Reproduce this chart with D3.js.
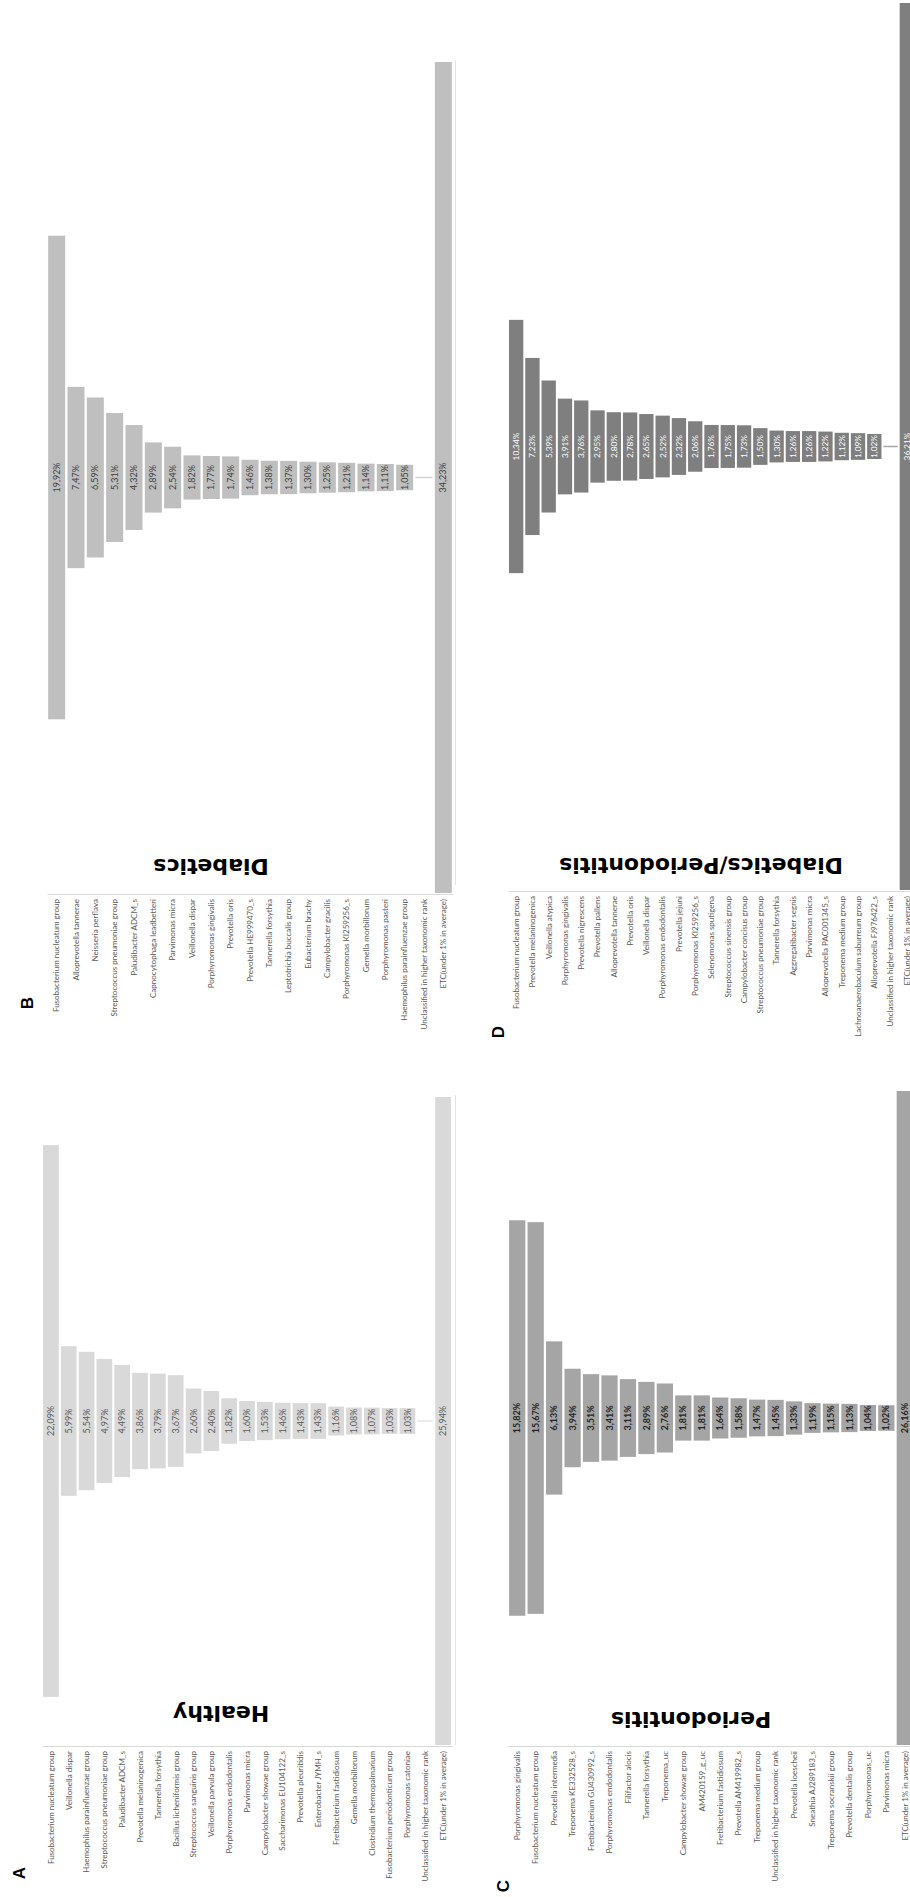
<!DOCTYPE html>
<html>
<head>
<meta charset="utf-8">
<script src="https://cdn.jsdelivr.net/npm/d3@7"></script>
<style>
    body { margin: 0; background: #fff; }
    svg { display: block; }
</style>
</head>
<body>
<svg id="figure" width="910" height="1897"></svg>
<script>
// Panel A - Healthy
const healthyLabels = [
    "Fusobacterium nucleatum group", "Veillonella dispar", "Haemophilus parainfluenzae group",
    "Streptococcus pneumoniae group", "Paludibacter ADCM_s", "Prevotella melaninogenica",
    "Tannerella forsythia", "Bacillus licheniformis group", "Streptococcus sanguinis group",
    "Veillonella parvula group", "Porphyromonas endodontalis", "Parvimonas micra",
    "Campylobacter showae group", "Saccharimonas EU104122_s", "Prevotella pleuritidis",
    "Enterobacter JYMH_s", "Fretibacterium fastidiosum", "Gemella morbillorum",
    "Clostridium thermopalmarium", "Fusobacterium periodonticum group", "Porphyromonas catoniae",
    "Unclassified in higher taxonomic rank", "ETC(under 1% in average)"
];
const healthyValues = [22.09, 5.99, 5.54, 4.97, 4.49, 3.86, 3.79, 3.67, 2.60, 2.40, 1.82, 1.60,
    1.53, 1.46, 1.43, 1.43, 1.16, 1.08, 1.07, 1.03, 1.03, 0.06, 25.94];

// Panel B - Diabetics
const diabeticsLabels = [
    "Fusobacterium nucleatum group", "Alloprevotella tannerae", "Neisseria perflava",
    "Streptococcus pneumoniae group", "Paludibacter ADCM_s", "Capnocytophaga leadbetteri",
    "Parvimonas micra", "Veillonella dispar", "Porphyromonas gingivalis", "Prevotella oris",
    "Prevotella HE999470_s", "Tannerella forsythia", "Leptotrichia buccalis group",
    "Eubacterium brachy", "Campylobacter gracilis", "Porphyromonas KI259256_s",
    "Gemella morbillorum", "Porphyromonas pasteri", "Haemophilus parainfluenzae group",
    "Unclassified in higher taxonomic rank", "ETC(under 1% in average)"
];
const diabeticsValues = [19.92, 7.47, 6.59, 5.31, 4.32, 2.89, 2.54, 1.82, 1.77, 1.74, 1.46, 1.38,
    1.37, 1.30, 1.25, 1.21, 1.14, 1.11, 1.05, 0.06, 34.23];

// Panel C - Periodontitis
const periodontitisLabels = [
    "Porphyromonas gingivalis", "Fusobacterium nucleatum group", "Prevotella intermedia",
    "Treponema KE332528_s", "Fretibacterium GU430992_s", "Porphyromonas endodontalis",
    "Filifactor alocis", "Tannerella forsythia", "Treponema_uc", "Campylobacter showae group",
    "AM420159_g_uc", "Fretibacterium fastidiosum", "Prevotella AM419982_s",
    "Treponema medium group", "Unclassified in higher taxonomic rank", "Prevotella loescheii",
    "Sneathia AJ289183_s", "Treponema socranskii group", "Prevotella dentalis group",
    "Porphyromonas_uc", "Parvimonas micra", "ETC(under 1% in average)"
];
const periodontitisValues = [15.82, 15.67, 6.13, 3.94, 3.51, 3.41, 3.11, 2.89, 2.76, 1.81, 1.81,
    1.64, 1.58, 1.47, 1.45, 1.33, 1.19, 1.15, 1.13, 1.04, 1.02, 26.16];

// Panel D - Diabetics/Periodontitis
const diabPerioLabels = [
    "Fusobacterium nucleatum group", "Prevotella melaninogenica", "Veillonella atypica",
    "Porphyromonas gingivalis", "Prevotella nigrescens", "Prevotella pallens",
    "Alloprevotella tannerae", "Prevotella oris", "Veillonella dispar",
    "Porphyromonas endodontalis", "Prevotella jejuni", "Porphyromonas KI259256_s",
    "Selenomonas sputigena", "Streptococcus sinensis group", "Campylobacter concisus group",
    "Streptococcus pneumoniae group", "Tannerella forsythia", "Aggregatibacter segnis",
    "Parvimonas micra", "Alloprevotella PAC001345_s", "Treponema medium group",
    "Lachnoanaerobaculum saburreum group", "Alloprevotella FJ976422_s",
    "Unclassified in higher taxonomic rank", "ETC(under 1% in average)"
];
const diabPerioValues = [10.34, 7.23, 5.39, 3.91, 3.76, 2.95, 2.80, 2.78, 2.65, 2.52, 2.32, 2.06,
    1.76, 1.75, 1.73, 1.50, 1.30, 1.26, 1.26, 1.22, 1.12, 1.09, 1.02, 0.06, 36.21];

// layout of the four funnels (the figure is turned on its side)
const panels = [
    { letter: "A", title: "Healthy", labels: healthyLabels, values: healthyValues,
      x0: 42, x1: 452, top: 1097, bottom: 1745, fill: "#d9d9d9", ink: "#595959", bold: false,
      valueSize: 9, titleX: 221, titleY: 1706, letterX: 19, letterY: 1873 },
    { letter: "B", title: "Diabetics", labels: diabeticsLabels, values: diabeticsValues,
      x0: 47, x1: 453, top: 62, bottom: 893, fill: "#bfbfbf", ink: "#404040", bold: false,
      valueSize: 9, titleX: 211, titleY: 859, letterX: 27, letterY: 1003 },
    { letter: "C", title: "Periodontitis", labels: periodontitisLabels, values: periodontitisValues,
      x0: 508, x1: 914, top: 1091, bottom: 1745, fill: "#a5a5a5", ink: "#262626", bold: true,
      valueSize: 9, titleX: 691, titleY: 1712, letterX: 503, letterY: 1886 },
    { letter: "D", title: "Diabetics/Periodontitis", labels: diabPerioLabels, values: diabPerioValues,
      x0: 508, x1: 915, top: 3, bottom: 890, fill: "#7f7f7f", ink: "#ffffff", bold: false,
      valueSize: 8.3, titleX: 701, titleY: 858, letterX: 498, letterY: 1032 }
];

const svg = d3.select("#figure");
svg.append("rect").attr("width", 910).attr("height", 1897).attr("fill", "#fff");

// faint chart borders on the right column
svg.append("line").attr("x1", 455.5).attr("x2", 455.5).attr("y1", 60).attr("y2", 885)
    .attr("stroke", "#e3e3e3");
svg.append("line").attr("x1", 455.5).attr("x2", 455.5).attr("y1", 1095).attr("y2", 1745)
    .attr("stroke", "#e3e3e3");

panels.forEach(p => drawFunnel(p));

function formatValue(v) {
    return v.toFixed(2).replace(".", ",") + "%";
}

function drawFunnel(p) {
    const g = svg.append("g");
    const rows = p.labels.map((label, i) => ({ label, value: p.values[i] }));

    const x = d3.scaleBand()
        .domain(p.labels)
        .range([p.x0, p.x1])
        .paddingInner(0.12)
        .paddingOuter(0.06);

    const len = d3.scaleLinear()
        .domain([0, d3.max(p.values)])
        .range([0, p.bottom - p.top]);

    const cy = (p.top + p.bottom) / 2;

    // funnel bars, centred on the middle line
    g.selectAll("rect.bar")
        .data(rows)
        .enter()
        .append("rect")
        .attr("class", "bar")
        .attr("x", d => x(d.label))
        .attr("width", x.bandwidth())
        .attr("y", d => cy - Math.max(len(d.value), 1.2) / 2)
        .attr("height", d => Math.max(len(d.value), 1.2))
        .attr("fill", p.fill)
        .attr("fill-opacity", d => d.value < 0.5 ? 0.7 : 1);

    // value labels
    g.selectAll("text.val")
        .data(rows.filter(d => d.value >= 0.5))
        .enter()
        .append("text")
        .attr("class", "val")
        .attr("transform", d => `translate(${x(d.label) + x.bandwidth() / 2},${cy}) rotate(-90)`)
        .attr("text-anchor", "middle")
        .attr("dy", "0.35em")
        .attr("font-family", "Lato, 'Open Sans', sans-serif")
        .attr("font-size", p.valueSize)
        .attr("font-weight", p.bold ? "bold" : "normal")
        .attr("fill", p.ink)
        .text(d => formatValue(d.value));

    // category axis
    const axis = g.append("g")
        .attr("transform", `translate(0,${p.bottom + 1})`)
        .call(d3.axisBottom(x).tickSize(0).tickSizeOuter(0));

    axis.select(".domain").attr("stroke", "#d9d9d9");
    axis.selectAll(".tick text")
        .attr("transform", "rotate(-90)")
        .attr("x", -5)
        .attr("y", 0)
        .attr("dy", "0.35em")
        .attr("text-anchor", "end")
        .attr("font-family", "Lato, 'Open Sans', sans-serif")
        .attr("font-size", 8)
        .attr("fill", "#595959");

    // title, upside down
    g.append("text")
        .attr("transform", `translate(${p.titleX},${p.titleY}) rotate(180)`)
        .attr("text-anchor", "middle")
        .attr("font-family", "'DejaVu Sans', sans-serif")
        .attr("font-weight", "bold")
        .attr("font-size", 22)
        .attr("fill", "#000")
        .text(p.title);

    // panel letter
    g.append("text")
        .attr("transform", `translate(${p.letterX},${p.letterY}) rotate(-90)`)
        .attr("text-anchor", "middle")
        .attr("dy", "0.35em")
        .attr("font-family", "'Liberation Sans', Arial, sans-serif")
        .attr("font-weight", "bold")
        .attr("font-size", 17)
        .attr("fill", "#000")
        .text(p.letter);
}
</script>
</body>
</html>
